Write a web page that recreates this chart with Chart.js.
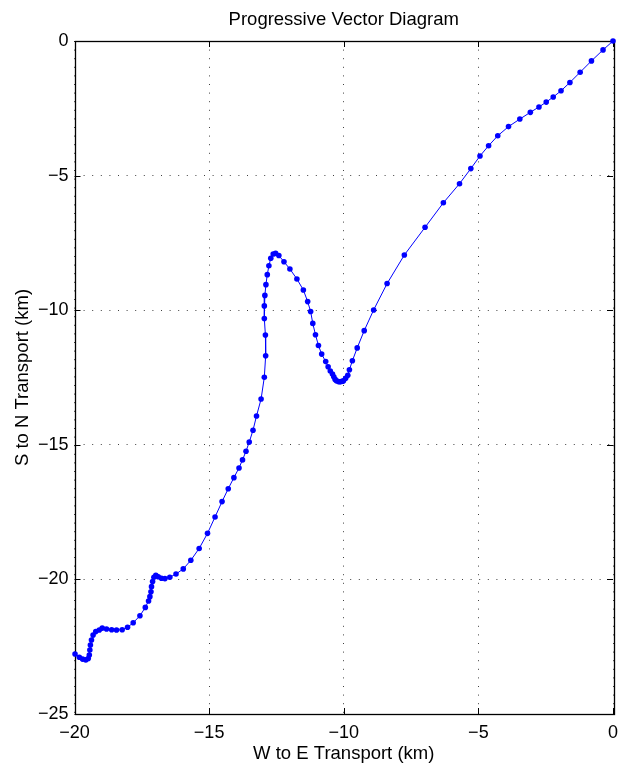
<!DOCTYPE html>
<html>
<head>
<meta charset="utf-8">
<title>Progressive Vector Diagram</title>
<script src="https://cdn.jsdelivr.net/npm/chart.js@4/dist/chart.umd.min.js"></script>
<style>
  html, body { margin: 0; padding: 0; background: #fff; }
  canvas { display: block; }
</style>
</head>
<body>
<canvas id="pvd" width="621" height="770"></canvas>
<script>
// Cumulative displacement track (km), starting at the origin
const eastKm = [
  0, -0.37, -0.80, -1.22, -1.60, -1.93, -2.22, -2.48, -2.75, -3.07, -3.46, -3.88, -4.28, -4.62, -4.94, -5.28, -5.70, -6.30, -6.98,
  -7.75, -8.39, -8.89, -9.24, -9.50, -9.68, -9.79, -9.85, -9.93, -10.01, -10.05, -10.10, -10.15, -10.20, -10.27, -10.32, -10.37,
  -10.42, -10.50, -10.58, -10.67, -10.82, -10.94, -11.05, -11.15, -11.23, -11.34, -11.50, -11.74, -12.00, -12.22, -12.41, -12.53,
  -12.62, -12.71, -12.78, -12.84, -12.89, -12.93, -12.95, -12.95, -12.91, -12.90, -12.95, -13.07, -13.24, -13.37, -13.51, -13.63,
  -13.76, -13.89, -14.08, -14.29, -14.52, -14.78, -15.06, -15.37, -15.68, -15.96, -16.23, -16.46, -16.64, -16.77, -16.89, -16.98,
  -17.05, -17.10, -17.14, -17.16, -17.20, -17.25, -17.37, -17.57, -17.82, -18.03, -18.23, -18.44, -18.62, -18.81, -18.97, -19.08,
  -19.21, -19.31, -19.37, -19.41, -19.43, -19.45, -19.49, -19.58, -19.70, -19.82, -19.98
];
const northKm = [
  0, -0.33, -0.74, -1.16, -1.54, -1.85, -2.08, -2.27, -2.45, -2.65, -2.90, -3.18, -3.52, -3.89, -4.27, -4.74, -5.30, -6.01, -6.92,
  -7.95, -9.01, -9.99, -10.76, -11.40, -11.88, -12.21, -12.42, -12.53, -12.62, -12.64, -12.65, -12.66, -12.65, -12.62, -12.57, -12.47,
  -12.37, -12.26, -12.10, -11.91, -11.63, -11.31, -10.91, -10.49, -10.05, -9.68, -9.25, -8.84, -8.47, -8.20, -7.97, -7.89,
  -7.91, -8.07, -8.35, -8.68, -9.05, -9.45, -9.84, -10.31, -10.92, -11.69, -12.49, -13.30, -13.93, -14.46, -14.90, -15.24,
  -15.56, -15.86, -16.22, -16.63, -17.11, -17.68, -18.29, -18.85, -19.29, -19.61, -19.80, -19.92, -19.97, -19.96, -19.90, -19.85,
  -19.92, -20.08, -20.27, -20.46, -20.64, -20.80, -21.04, -21.35, -21.61, -21.78, -21.87, -21.88, -21.87, -21.84, -21.81, -21.88,
  -21.94, -22.07, -22.25, -22.44, -22.62, -22.81, -22.94, -22.99, -22.96, -22.89, -22.77
];

// Axis ranges and tick spacing
const xRange = [-20, 0];
const yRange = [-25, 0];
const tickStep = 5;

const chartTitle = 'Progressive Vector Diagram';
const xTitle = 'W to E Transport (km)';
const yTitle = 'S to N Transport (km)';

const FONT = "'Liberation Sans', Arial, Helvetica, sans-serif";
const fmt = v => String(v).replace('-', '\u2212');

const points = eastKm.map((x, i) => ({ x, y: northKm[i] }));

// Box around the plot area with inward-facing tick marks on all sides
const boxAndTicks = {
  id: 'boxAndTicks',
  beforeDatasetsDraw(chart) {
    const { ctx, chartArea: a, scales } = chart;
    const len = 6;
    ctx.save();
    ctx.strokeStyle = '#000';
    ctx.lineWidth = 1;
    ctx.beginPath();
    scales.x.ticks.forEach(t => {
      const px = Math.round(scales.x.getPixelForValue(t.value)) + 0.5;
      ctx.moveTo(px, a.bottom); ctx.lineTo(px, a.bottom - len);
      ctx.moveTo(px, a.top); ctx.lineTo(px, a.top + len);
    });
    scales.y.ticks.forEach(t => {
      const py = Math.round(scales.y.getPixelForValue(t.value)) + 0.5;
      ctx.moveTo(a.left, py); ctx.lineTo(a.left + len, py);
      ctx.moveTo(a.right, py); ctx.lineTo(a.right - len, py);
    });
    ctx.stroke();
    ctx.lineWidth = 1.3;
    ctx.strokeRect(Math.round(a.left) + 0.5, Math.round(a.top) + 0.5,
                   Math.round(a.right - a.left), Math.round(a.bottom - a.top));
    ctx.restore();
  }
};

new Chart(document.getElementById('pvd'), {
  type: 'scatter',
  data: {
    datasets: [{
      data: points,
      showLine: true,
      borderColor: '#0000ff',
      borderWidth: 1,
      backgroundColor: '#0000ff',
      pointBackgroundColor: '#0000ff',
      pointBorderWidth: 0,
      pointRadius: 2.8,
      tension: 0,
      clip: false
    }]
  },
  options: {
    responsive: false,
    animation: false,
    events: [],
    layout: { padding: { left: 0, right: 8, top: 0, bottom: 0 } },
    plugins: {
      legend: { display: false },
      tooltip: { enabled: false },
      title: {
        display: true,
        text: chartTitle,
        fullSize: false,
        color: '#000',
        font: { family: FONT, size: 18.5, weight: 'normal', lineHeight: 1.2 },
        padding: { top: 9, bottom: 9.8 }
      }
    },
    scales: {
      x: {
        type: 'linear',
        min: xRange[0], max: xRange[1],
        afterFit: s => { s.height = 56; s.paddingLeft = 0; s.paddingRight = 0; },
        ticks: {
          stepSize: tickStep,
          color: '#000',
          padding: 8,
          maxRotation: 0,
          font: { family: FONT, size: 18 },
          callback: v => fmt(v)
        },
        grid: { drawTicks: false, color: 'rgba(0,0,0,0.75)', lineWidth: 1 },
        border: { display: false, dash: [1, 7.6] },
        title: {
          display: true, text: xTitle, color: '#000',
          font: { family: FONT, size: 18.5, lineHeight: 1.2 },
          padding: { top: 0, bottom: 5 }
        }
      },
      y: {
        type: 'linear',
        min: yRange[0], max: yRange[1],
        afterFit: s => { s.width = 74.5; s.paddingTop = 0; s.paddingBottom = 0; },
        ticks: {
          stepSize: tickStep,
          color: '#000',
          padding: 6,
          font: { family: FONT, size: 18 },
          callback: v => fmt(v)
        },
        grid: { drawTicks: false, color: 'rgba(0,0,0,0.75)', lineWidth: 1 },
        border: { display: false, dash: [1, 7.6] },
        title: {
          display: true, text: yTitle, color: '#000',
          font: { family: FONT, size: 18.5, lineHeight: 1.2 },
          padding: { top: 12, bottom: 0 }
        }
      }
    }
  },
  plugins: [boxAndTicks]
});
</script>
</body>
</html>
